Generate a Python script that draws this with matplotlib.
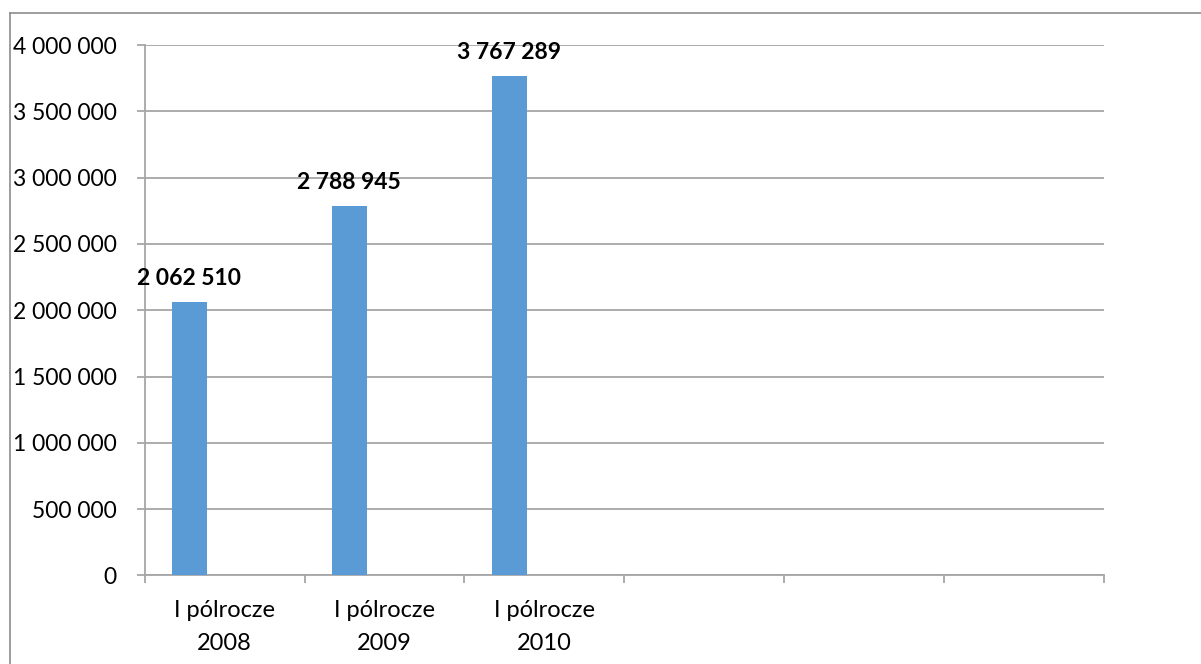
import matplotlib.pyplot as plt
from matplotlib.lines import Line2D
import numpy as np

# Data
categories = ["I pólrocze\n2008", "I pólrocze\n2009", "I pólrocze\n2010", "", "", ""]
values = [2062510, 2788945, 3767289]
y_ticks = [0, 500000, 1000000, 1500000, 2000000, 2500000, 3000000, 3500000, 4000000]

bar_color = "#5B9BD5"
grid_color = "#A6A6A6"

def fmt(v):
    return f"{v:,}".replace(",", " ")

plt.rcParams["font.family"] = ["Lato", "DejaVu Sans"]

fig = plt.figure(figsize=(12.01, 6.64), dpi=100)
ax = fig.add_axes([0.1205, 0.1333, 0.9192 - 0.1205, 0.9322 - 0.1333])

x = np.arange(len(values))
bars = ax.bar(x - 0.22, values, width=0.22, color=bar_color, zorder=3)

for b, v in zip(bars, values):
    ax.annotate(fmt(v), (b.get_x() + b.get_width() / 2, v),
                xytext=(0, 9), textcoords="offset points",
                ha="center", va="bottom", fontsize=16.5, fontweight="bold")

ax.set_xlim(-0.5, len(categories) - 0.5)
ax.set_ylim(0, 4000000)

ax.set_yticks(y_ticks)
ax.set_yticklabels([fmt(t) for t in y_ticks], fontsize=16.5)
ax.yaxis.grid(True, color=grid_color, linewidth=1.3, zorder=0)

ax.set_xticks(np.arange(len(categories)))
ax.set_xticklabels(categories, fontsize=17, linespacing=1.65)
ax.set_xticks(np.arange(len(categories) + 1) - 0.5, minor=True)
ax.tick_params(axis="x", which="major", length=0, pad=18)
ax.tick_params(axis="x", which="minor", length=6, color=grid_color, width=1.3)
ax.tick_params(axis="y", length=6, color=grid_color, width=1.3, pad=14)

for s in ["top", "right"]:
    ax.spines[s].set_visible(False)
for s in ["left", "bottom"]:
    ax.spines[s].set_color(grid_color)
    ax.spines[s].set_linewidth(1.3)

# outer chart border (left and top visible)
W, H = 1201, 664
fig.add_artist(Line2D([9.5 / W, 9.5 / W], [0, 1 - 12.5 / H], color="#8C8C8C", linewidth=1.2))
fig.add_artist(Line2D([9.5 / W, 1], [1 - 12.5 / H, 1 - 12.5 / H], color="#8C8C8C", linewidth=1.2))

plt.savefig("out.png", dpi=100)
